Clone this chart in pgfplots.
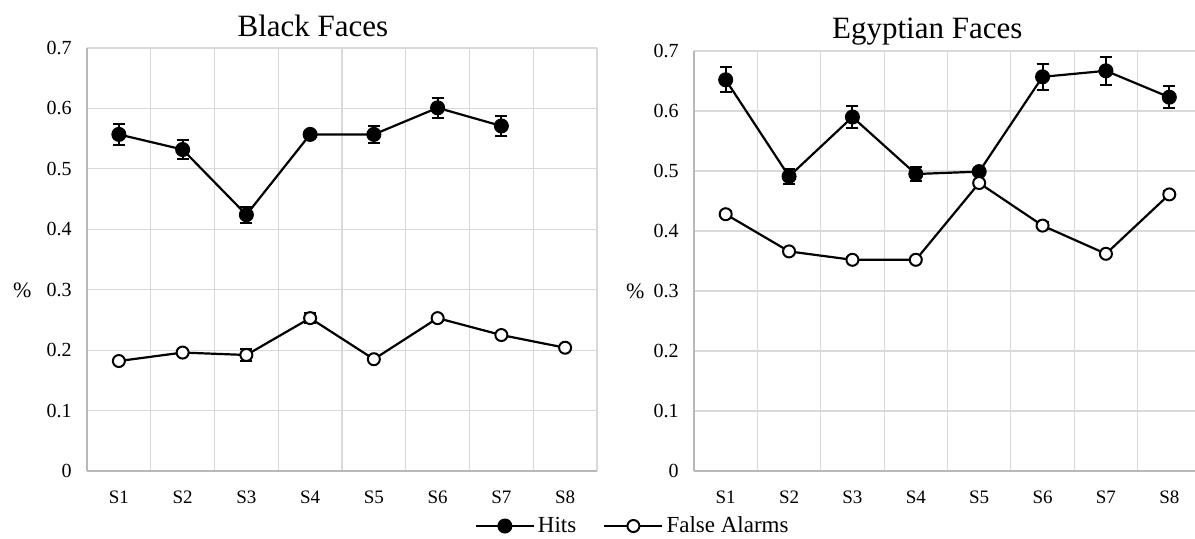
\documentclass[border=0pt]{standalone}
\usepackage{fontspec}
\setmainfont{Liberation Serif}
\usepackage{pgfplots}
\usepackage{pgfplotstable}
\pgfplotsset{compat=1.18}

\pgfplotstableread{
x y e
1 0.557 0.017
2 0.532 0.016
3 0.424 0.013
4 0.557 0.004
5 0.557 0.014
6 0.601 0.017
7 0.571 0.016
}\blackhits
\pgfplotstableread{
x y e
1 0.182 0.004
2 0.196 0.004
3 0.192 0.010
4 0.253 0.008
5 0.185 0.004
6 0.253 0.004
7 0.225 0.004
8 0.204 0.004
}\blackfa
\pgfplotstableread{
x y e
1 0.652 0.021
2 0.491 0.013
3 0.590 0.018
4 0.495 0.012
5 0.499 0.005
6 0.657 0.022
7 0.667 0.023
8 0.623 0.018
}\egyhits
\pgfplotstableread{
x y e
1 0.428 0.005
2 0.366 0.004
3 0.352 0.004
4 0.352 0.004
5 0.480 0.005
6 0.409 0.006
7 0.362 0.004
8 0.461 0.006
}\egyfa

\pgfplotsset{
  myax/.style={
    scale only axis,
    xmin=0.5, xmax=8.5, ymin=0, ymax=0.7,
    xtick={1,2,3,4,5,6,7,8},
    xticklabels={S1,S2,S3,S4,S5,S6,S7,S8},
    minor xtick={1.5,2.5,3.5,4.5,5.5,6.5,7.5,8.5},
    ytick={0,0.1,0.2,0.3,0.4,0.5,0.6,0.7},
    major tick length=0pt, minor tick length=0pt,
    ymajorgrids, xminorgrids,
    grid style={draw=black!15, line width=0.6pt},
    minor grid style={draw=black!15, line width=0.6pt},
    axis lines*=left,
    axis line style={draw=black!28, line width=0.6pt},
    /pgf/number format/assume math mode=true,
    yticklabel style={/pgf/number format/fixed, /pgf/number format/precision=2, font=\fontsize{10}{12}\selectfont, inner sep=0pt, anchor=east, xshift=-7.5pt},
    xticklabel style={font=\fontsize{9.5}{11}\selectfont, inner sep=0pt, anchor=base, yshift=-16pt},
    title style={font=\fontsize{15.5}{18}\selectfont, anchor=base, inner sep=0pt},
    ylabel style={rotate=-90, font=\fontsize{11}{13}\selectfont, anchor=center, inner sep=0pt},
    error bars/error bar style={line width=1pt, black},
    error bars/error mark options={rotate=90, mark size=3pt, line width=1pt, black},
    legend image code/.code={\draw[mark repeat=2, mark phase=2, #1] plot coordinates {(0pt,0pt) (14.5pt,0pt) (29pt,0pt)};},
  },
  hits/.style={black, line width=1.1pt, mark=*, mark size=3.5pt, mark options={fill=black, draw=black, line width=0.5pt},
    error bars/.cd, y dir=both, y explicit},
  fa/.style={black, line width=1.1pt, mark=*, mark size=3pt, mark options={fill=white, draw=black, line width=1pt},
    error bars/.cd, y dir=both, y explicit},
}

\begin{document}
\begin{tikzpicture}
\useasboundingbox (0,0) rectangle (597.5pt,269pt);
\clip (0,0) rectangle (597.5pt,269pt);

\begin{axis}[myax,
  at={(43.5pt,33.5pt)}, anchor=south west,
  width=255pt, height=211.5pt,
  title={Black Faces},
  title style={at={(axis description cs:0.443,1)}},
  ylabel={\%},
  ylabel style={at={(axis description cs:-0.127,0.428)}},
]
\addplot[hits] table[x=x, y=y, y error=e] {\blackhits};
\addplot[fa] table[x=x, y=y, y error=e] {\blackfa};
\end{axis}

\begin{axis}[myax,
  at={(347pt,33.5pt)}, anchor=south west,
  width=253.5pt, height=210pt,
  title={Egyptian Faces},
  title style={at={(axis description cs:0.46,1)}, yshift=0.5pt},
  ylabel={\%},
  ylabel style={at={(axis description cs:-0.116,0.429)}},
  legend columns=2,
  legend style={at={(axis description cs:-0.12,-0.131)}, anchor=center, draw=none, fill=none,
    font=\fontsize{11.5}{13}\selectfont, inner sep=0pt,
    /tikz/every even column/.append style={column sep=12pt},
    nodes={inner sep=1.5pt}},
]
\addplot[hits] table[x=x, y=y, y error=e] {\egyhits};
\addlegendentry{Hits}
\addplot[fa] table[x=x, y=y, y error=e] {\egyfa};
\addlegendentry{False Alarms}
\end{axis}
\end{tikzpicture}
\end{document}
